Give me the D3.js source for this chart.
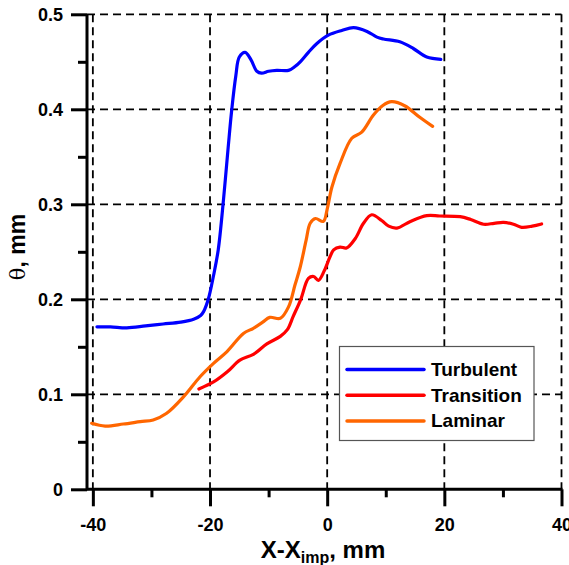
<!DOCTYPE html>
<html>
<head>
<meta charset="utf-8">
<script src="https://cdn.jsdelivr.net/npm/d3@7"></script>
<style>
  body { margin: 0; background: #fff; }
  text { font-family: Arial, "Liberation Sans", sans-serif; font-weight: bold; }
</style>
</head>
<body>
<svg id="chart" width="569" height="565"></svg>
<script>
// curves
var turbX = [-39.3,-37,-34.2,-31,-28,-25,-22.8,-21.6,-21.1,-20.3,-19.4,-18.6,-17.7,-16.9,-16.3,-15.6,-15.0,-14.0,-13.0,-12.0,-11.2,-10,-8.6,-6.6,-5.5,-4.6,-3.2,-1.8,0.2,2.5,4.5,6.8,8.5,9.6,12.4,14.7,17.0,19.4];
var turbY = [0.171,0.171,0.170,0.172,0.174,0.176,0.179,0.183,0.187,0.200,0.225,0.252,0.305,0.360,0.399,0.435,0.455,0.460,0.452,0.440,0.438,0.440,0.441,0.441,0.445,0.450,0.460,0.469,0.478,0.483,0.486,0.482,0.476,0.474,0.471,0.464,0.455,0.4526];

var transX = [-21.9,-19.4,-17,-14.9,-12.6,-10.3,-8.0,-6.8,-5.8,-4.5,-3.2,-2.3,-1.5,-0.5,0.5,1.1,2.2,3.3,4.8,6.2,7.6,9.3,10.5,11.9,14.2,17.0,19.2,22.7,24.5,26.7,28.5,30.1,31.8,33.2,35,36.6];
var transY = [0.1056,0.113,0.124,0.136,0.142,0.153,0.161,0.168,0.182,0.200,0.222,0.224,0.220,0.230,0.245,0.252,0.255,0.254,0.264,0.280,0.289,0.283,0.277,0.275,0.282,0.288,0.2877,0.287,0.284,0.279,0.280,0.281,0.279,0.2758,0.277,0.2793];

var lamX = [-40.2,-37.9,-34.8,-31.9,-29.7,-27.4,-24.5,-21.7,-19.4,-17.1,-14.3,-12.6,-11,-9.8,-8.0,-6.6,-5.5,-4.6,-3.6,-2.9,-2.0,-0.65,0.0,0.8,2.2,4.2,5.9,7.9,9.5,11.0,13.3,15.8,18.0];
var lamY = [0.0695,0.0666,0.0687,0.0712,0.073,0.080,0.0975,0.1185,0.1326,0.145,0.164,0.1695,0.176,0.181,0.180,0.192,0.215,0.234,0.262,0.280,0.285,0.282,0.295,0.318,0.343,0.3695,0.376,0.394,0.404,0.408,0.4035,0.3916,0.382];

var seriesNames = ["Turbulent", "Transition", "Laminar"];
var seriesColors = ["#0000ff", "#ff0000", "#ff6600"];

var xTicks = [-40, -20, 0, 20, 40];
var xMinor = [-30, -10, 10, 30];
var yTicks = [0, 0.1, 0.2, 0.3, 0.4, 0.5];
var yMinor = [0.05, 0.15, 0.25, 0.35, 0.45];

var svg = d3.select("#chart");

var x = d3.scaleLinear().domain([-41, 40]).range([87, 561.5]);
var y = d3.scaleLinear().domain([0, 0.5]).range([489.3, 14.3]);

// dashed grid
var grid = svg.append("g").attr("stroke", "#000").attr("stroke-width", 1.8).attr("stroke-dasharray", "8,5");
grid.selectAll("line.v").data(xTicks).enter().append("line")
  .attr("x1", d => x(d)).attr("x2", d => x(d))
  .attr("y1", y(0.5)).attr("y2", y(0));
grid.selectAll("line.h").data(yTicks.slice(1)).enter().append("line")
  .attr("x1", x(-41)).attr("x2", x(40))
  .attr("y1", d => y(d)).attr("y2", d => y(d));

// curves
var line = d3.line().x(d => x(d[0])).y(d => y(d[1])).curve(d3.curveCatmullRom.alpha(0.5));
var allX = [turbX, transX, lamX], allY = [turbY, transY, lamY];
[2, 1, 0].forEach(function(i) {
  svg.append("path")
    .datum(d3.zip(allX[i], allY[i]))
    .attr("fill", "none")
    .attr("stroke", seriesColors[i])
    .attr("stroke-width", 3.2)
    .attr("stroke-linejoin", "round")
    .attr("stroke-linecap", "round")
    .attr("d", line);
});

// axes
var xAxis = svg.append("g").attr("transform", "translate(0," + y(0) + ")")
  .call(d3.axisBottom(x).tickValues(xTicks).tickSize(17).tickPadding(12).tickFormat(d => String(d)));
svg.append("g").attr("transform", "translate(0," + y(0) + ")")
  .call(d3.axisBottom(x).tickValues(xMinor).tickSize(8).tickFormat(""))
  .select(".domain").remove();

var yAxis = svg.append("g").attr("transform", "translate(" + x(-41) + ",0)")
  .call(d3.axisLeft(y).tickValues(yTicks).tickSize(16).tickPadding(8).tickFormat(d => d === 0 ? "0" : d.toFixed(1)));
svg.append("g").attr("transform", "translate(" + x(-41) + ",0)")
  .call(d3.axisLeft(y).tickValues(yMinor).tickSize(9).tickFormat(""))
  .select(".domain").remove();

svg.selectAll(".domain").attr("stroke-width", 3).attr("stroke", "#000");
svg.selectAll(".tick line").attr("stroke-width", 3).attr("stroke", "#000");
svg.selectAll(".tick text").attr("fill", "#000").style("font-size", "18px").style("font-family", "Arial, 'Liberation Sans', sans-serif").style("font-weight", "bold");
xAxis.select(".domain").attr("d", "M" + x(-41) + ",0H" + (x(40) + 1));
yAxis.select(".domain").attr("d", "M0," + y(0.5) + "V" + (y(0) + 1));

// axis titles
var xt = svg.append("text").attr("x", 323).attr("y", 558).attr("text-anchor", "middle").style("font-size", "24px");
xt.append("tspan").text("X-X");
xt.append("tspan").attr("dy", 5).style("font-size", "16px").text("imp");
xt.append("tspan").attr("dy", -5).text(", mm");

var yt = svg.append("text").attr("transform", "translate(25,247) rotate(-90)").attr("text-anchor", "middle").style("font-size", "23px");
yt.append("tspan").style("font-weight", "normal").style("font-family", "'DejaVu Serif', serif").style("font-size", "21px").text("θ");
yt.append("tspan").text(", mm");

// legend
var lg = svg.append("g");
lg.append("rect").attr("x", 339.5).attr("y", 346.5).attr("width", 194.5).attr("height", 94)
  .attr("fill", "#fff").attr("stroke", "#555").attr("stroke-width", 1.2);
var rows = lg.selectAll("g.row").data(seriesNames).enter().append("g")
  .attr("transform", (d, i) => "translate(0," + (369.5 + i * 25.7) + ")");
rows.append("line").attr("x1", 347).attr("x2", 424).attr("y1", 0).attr("y2", 0)
  .attr("stroke", (d, i) => seriesColors[i]).attr("stroke-width", 3.5).attr("stroke-linecap", "round");
rows.append("text").attr("x", 431).attr("y", 6.5).style("font-size", "19px").text(d => d);
</script>
</body>
</html>
